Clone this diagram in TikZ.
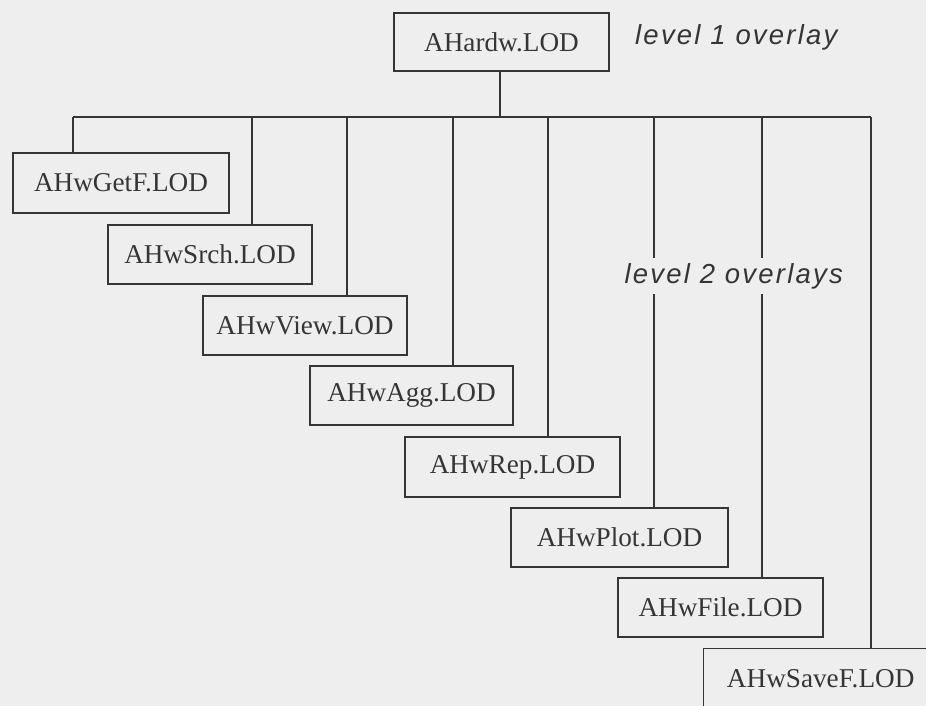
\documentclass[tikz,border=0pt]{standalone}
\usepackage{fontspec}
\setmainfont{Liberation Serif}
\newfontfamily\ovlfont[LetterSpace=8]{Liberation Sans Italic}
\definecolor{bgc}{HTML}{EEEEEE}
\definecolor{ink}{HTML}{353535}
\begin{document}
\begin{tikzpicture}[x=1pt,y=-1pt,
  lod/.style={draw=ink, line width=1.4pt, inner sep=0pt, text=ink,
    font=\fontsize{27.2}{30}\selectfont, minimum height=59pt},
  conn/.style={draw=ink, line width=1.4pt},
  ovl/.style={inner xsep=2pt, inner ysep=5pt, text=ink, font=\ovlfont\fontsize{27.5}{30}\selectfont}]
\fill[bgc] (0,0) rectangle (926,706);
\useasboundingbox (0,0) rectangle (926,706);
\begin{scope}
\clip (0,0) rectangle (926,706);
\node[lod, minimum width=215pt, minimum height=58pt] (top) at (501.5,42) {AHardw.LOD};
\node[ovl, anchor=base west] (l1) at (633,45) {level 1 overlay};
\node[lod, minimum width=216pt, minimum height=60pt] (getf) at (121,183) {AHwGetF.LOD};
\node[lod, minimum width=204pt] (srch) at (210,254.5) {AHwSrch.LOD};
\node[lod, minimum width=204pt] (view) at (305,325.5) {AHwView.LOD};
\node[lod, minimum width=203pt] (agg) at (411.5,395.5) {AHwAgg.LOD};
\node[lod, minimum width=215pt, minimum height=60pt] (rep) at (512.5,467) {AHwRep.LOD};
\node[lod, minimum width=217pt] (plot) at (619.5,537.5) {AHwPlot.LOD};
\node[lod, minimum width=205pt] (file) at (720.5,607.5) {AHwFile.LOD};
\node[lod, minimum width=238pt, minimum height=60pt, anchor=north west] (savef) at (703,648) {\hspace*{-4pt}AHwSaveF.LOD};
\coordinate (stem) at (500,117);
\coordinate (t1) at (73,117);
\coordinate (t2) at (252,117);
\coordinate (t3) at (347,117);
\coordinate (t4) at (453,117);
\coordinate (t5) at (548,117);
\coordinate (t6) at (654,117);
\coordinate (t7) at (762,117);
\coordinate (t8) at (871,117);
\draw[conn] (stem |- top.south) -- (stem);
\draw[conn] (t1) -- (t8);
\draw[conn] (t1) -- (t1 |- getf.north);
\draw[conn] (t2) -- (t2 |- srch.north);
\draw[conn] (t3) -- (t3 |- view.north);
\draw[conn] (t4) -- (t4 |- agg.north);
\draw[conn] (t5) -- (t5 |- rep.north);
\draw[conn] (t6) -- (t6 |- plot.north);
\draw[conn] (t7) -- (t7 |- file.north);
\draw[conn] (t8) -- (t8 |- savef.north);
\node[ovl, fill=bgc, anchor=base east] (l2) at (845,283) {level 2 overlays};
\end{scope}
\end{tikzpicture}
\end{document}
